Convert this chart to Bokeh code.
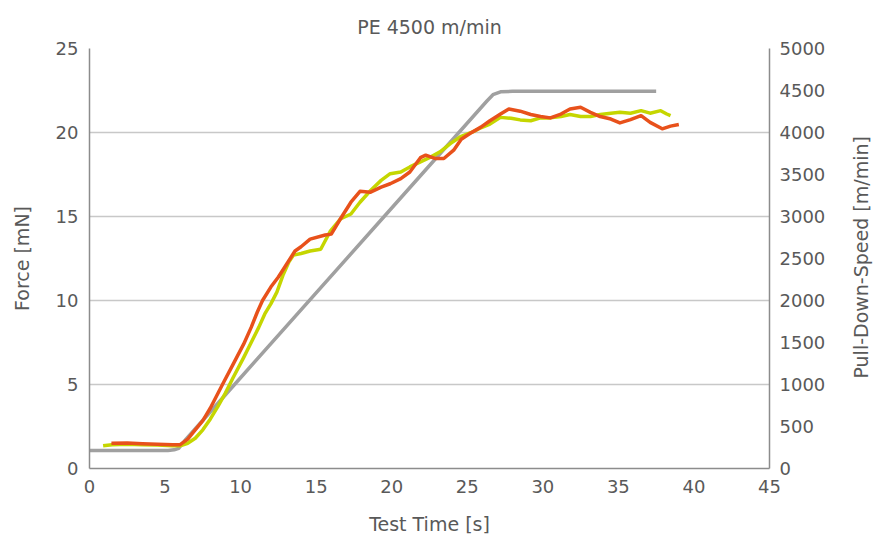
import math
from bokeh.plotting import figure
from bokeh.layouts import row
from bokeh.models import Range1d, LinearAxis, FixedTicker, Label
from bokeh.embed import file_html
from bokeh.resources import INLINE

# Force series 1 (green)
green_t = [0.9, 1.5, 2.5, 3.5, 4.5, 5.5, 6.0, 6.5, 7.0, 7.5, 8.0, 8.5, 9.0, 9.5, 10.2, 10.7,
           11.2, 11.6, 12.0, 12.4, 12.8, 13.2, 13.5, 14.0, 14.6, 15.3, 15.95, 16.6, 17.3, 17.9,
           18.6, 19.3, 19.9, 20.6, 21.2, 21.9, 22.6, 23.2, 23.9, 24.55, 25.4, 25.9, 26.5, 27.2,
           27.9, 28.5, 29.2, 29.85, 30.5, 31.2, 31.8, 32.5, 33.15, 33.8, 34.5, 35.1, 35.8, 36.5,
           37.1, 37.8, 38.2, 38.45]
green_f = [1.35, 1.42, 1.45, 1.42, 1.4, 1.35, 1.35, 1.5, 1.8, 2.3, 2.95, 3.7, 4.5, 5.4, 6.6, 7.5,
           8.4, 9.2, 9.8, 10.5, 11.5, 12.3, 12.7, 12.8, 12.95, 13.05, 14.15, 14.85, 15.15, 15.85,
           16.55, 17.15, 17.55, 17.65, 17.95, 18.25, 18.55, 18.85, 19.35, 19.75, 20.05, 20.28, 20.5, 20.9,
           20.85, 20.75, 20.7, 20.87, 20.87, 20.95, 21.07, 20.95, 20.95, 21.07, 21.15, 21.2, 21.15, 21.3,
           21.15, 21.3, 21.1, 21.0]

# Force series 2 (orange)
orange_t = [1.45, 2.5, 3.5, 4.5, 5.5, 6.0, 6.5, 6.9, 7.5, 8.0, 8.8, 9.5, 10.2, 10.7, 11.1, 11.45,
            12.0, 12.5, 13.0, 13.6, 14.0, 14.6, 15.6, 16.0, 16.6, 17.3, 17.9, 18.6, 19.3, 19.9,
            20.6, 21.2, 21.9, 22.25, 22.9, 23.45, 24.1, 24.6, 25.2, 25.9, 26.5, 27.2, 27.75, 28.5,
            29.2, 29.85, 30.5, 31.2, 31.8, 32.5, 33.15, 33.8, 34.5, 35.1, 35.8, 36.5, 37.1, 37.9,
            38.45, 39.0]
orange_f = [1.5, 1.52, 1.48, 1.45, 1.42, 1.42, 1.75, 2.2, 2.85, 3.6, 5.0, 6.2, 7.4, 8.4, 9.3, 10.0,
            10.8, 11.4, 12.1, 12.95, 13.2, 13.65, 13.9, 13.95, 14.85, 15.85, 16.5, 16.45, 16.75, 16.95,
            17.25, 17.65, 18.5, 18.65, 18.45, 18.45, 18.95, 19.6, 19.96, 20.32, 20.7, 21.1, 21.4, 21.27,
            21.07, 20.95, 20.87, 21.1, 21.4, 21.5, 21.2, 20.95, 20.8, 20.57, 20.77, 21.0, 20.6, 20.22,
            20.38, 20.48]

# Pull-down speed (gray, right axis)
speed_t = [0, 5.2, 5.6, 5.9, 6.3, 9.6, 19.5, 26.3, 26.7, 27.2, 28.0, 37.5]
speed_v = [215, 215, 222, 240, 330, 1000, 3000, 4375, 4450, 4485, 4490, 4490]

x_ticks = [0, 5, 10, 15, 20, 25, 30, 35, 40, 45]
force_ticks = [0, 5, 10, 15, 20, 25]
speed_ticks = [0, 500, 1000, 1500, 2000, 2500, 3000, 3500, 4000, 4500, 5000]
right_title = "Pull-Down-Speed [m/min]"

FONT = "DejaVu Sans"
TXT = "#595959"
AX = "#8C8C8C"

p = figure(width=845, height=539, output_backend="svg", toolbar_location=None,
           x_range=Range1d(0, 45), y_range=Range1d(0, 25),
           title="PE 4500 m/min",
           min_border_left=89, min_border_right=76, min_border_top=48, min_border_bottom=71)
p.extra_y_ranges = {"speed": Range1d(0, 5000)}

p.title.align = "center"
p.title.text_font = FONT
p.title.text_font_size = "19px"
p.title.text_font_style = "normal"
p.title.text_color = TXT
p.title.standoff = 22
p.outline_line_color = None
p.background_fill_color = "white"
p.border_fill_color = "white"

p.xgrid.grid_line_color = None
p.ygrid.grid_line_color = "#C8C8C8"
p.ygrid.grid_line_width = 1.5
p.ygrid.ticker = FixedTicker(ticks=force_ticks)

right = LinearAxis(y_range_name="speed")
p.add_layout(right, "right")

p.xaxis.ticker = FixedTicker(ticks=x_ticks)
p.yaxis[0].ticker = FixedTicker(ticks=force_ticks)
right.ticker = FixedTicker(ticks=speed_ticks)
p.xaxis.axis_label = "Test Time [s]"
p.yaxis[0].axis_label = "Force [mN]"

for ax in [p.xaxis[0], p.yaxis[0], right]:
    ax.axis_line_color = AX
    ax.axis_line_width = 1.5
    ax.major_tick_line_color = None
    ax.minor_tick_line_color = None
    ax.major_tick_out = 0
    ax.major_tick_in = 0
    ax.major_label_text_font = FONT
    ax.major_label_text_font_size = "18px"
    ax.major_label_text_color = TXT
    ax.axis_label_text_font = FONT
    ax.axis_label_text_font_size = "19px"
    ax.axis_label_text_font_style = "normal"
    ax.axis_label_text_color = TXT
    ax.major_label_standoff = 11

p.xaxis[0].axis_label_standoff = 17
p.yaxis[0].axis_label_standoff = 20
right.major_label_standoff = 10

p.line(speed_t, speed_v, y_range_name="speed", line_color="#A0A0A0", line_width=3.5, line_join="round")
p.line(green_t, green_f, line_color="#C5D600", line_width=3.5, line_join="round")
p.line(orange_t, orange_f, line_color="#E8511B", line_width=3.5, line_join="round")

# narrow strip on the right carrying the right-axis title, reading bottom-to-top
p2 = figure(width=40, height=539, output_backend="svg", toolbar_location=None,
            x_range=Range1d(0, 40), y_range=Range1d(0, 539),
            min_border=0, outline_line_color=None)
p2.axis.visible = False
p2.grid.visible = False
p2.background_fill_color = "white"
p2.border_fill_color = "white"
p2.add_layout(Label(x=15, y=271, text=right_title, angle=math.pi / 2,
                    text_align="center", text_baseline="middle",
                    text_font=FONT, text_font_size="19px", text_color=TXT))

layout = row(p, p2, spacing=0)
open("out.html", "w").write(file_html(layout, INLINE))
